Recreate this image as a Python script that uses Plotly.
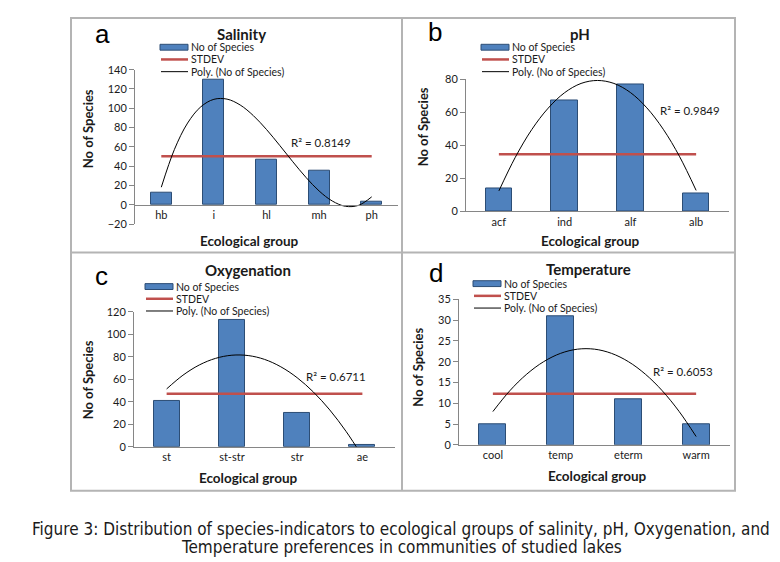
import plotly.graph_objects as go

W, H = 780, 562

# ---------------- data ----------------
sal_cats = ["hb", "i", "hl", "mh", "ph"]
sal_species = [13, 130, 47, 35, 3]
sal_stdev = 50.3
sal_trend_x = [1, 1.25, 1.5, 1.75, 2, 2.25, 2.5, 2.75, 3, 3.25, 3.5, 3.75, 4, 4.25, 4.5, 4.75, 5]
sal_trend_y = [18.2, 57.4, 84.7, 101.5, 109.3, 109.5, 103.4, 92.4, 78.0, 61.6, 44.6, 28.4, 14.3, 3.9, -1.6, -0.6, 8.2]
sal_r2 = "R² = 0.8149"

ph_cats = ["acf", "ind", "alf", "alb"]
ph_species = [14, 67, 77, 11]
ph_stdev = 34.6
ph_trend_x = [1, 1.25, 1.5, 1.75, 2, 2.25, 2.5, 2.75, 3, 3.25, 3.5, 3.75, 4]
ph_trend_y = [12.4, 32.8, 49.6, 62.6, 72.0, 77.6, 79.4, 77.6, 72.1, 62.8, 49.8, 33.1, 12.7]
ph_r2 = "R² = 0.9849"

oxy_cats = ["st", "st-str", "str", "ae"]
oxy_species = [41, 113, 30, 2]
oxy_stdev = 47.3
oxy_trend_x = [1, 1.25, 1.5, 1.75, 2, 2.25, 2.5, 2.75, 3, 3.25, 3.5, 3.75, 4]
oxy_trend_y = [51.5, 63.7, 72.8, 78.7, 81.5, 81.2, 77.8, 71.2, 61.5, 48.7, 32.8, 13.7, -8.5]
oxy_r2 = "R² = 0.6711"

tmp_cats = ["cool", "temp", "eterm", "warm"]
tmp_species = [5, 31, 11, 5]
tmp_stdev = 12.3
tmp_trend_x = [1, 1.25, 1.5, 1.75, 2, 2.25, 2.5, 2.75, 3, 3.25, 3.5, 3.75, 4]
tmp_trend_y = [8, 13, 17, 20, 22, 23, 23, 22, 20, 17, 13, 8, 2]
tmp_r2 = "R² = 0.6053"

titles = ["Salinity", "pH", "Oxygenation", "Temperature"]
letters = ["a", "b", "c", "d"]
legend_names = ["No of Species", "STDEV", "Poly. (No of Species)"]
x_title = "Ecological group"
y_title = "No of Species"
caption1 = "Figure 3: Distribution of species-indicators to ecological groups of salinity, pH, Oxygenation, and"
caption2 = "Temperature preferences in communities of studied lakes"

# ---------------- styling / layout ----------------
FONT = "Lato, 'Open Sans', 'Liberation Sans', sans-serif"
BAR = "#4F81BD"
BAR_EDGE = "#2c4d75"
RED = "#C0504D"
AXIS = "#868686"
TXT = "#1a1a1a"
LEG_STEP = 12.5


def fx(x):
    return x / W


def fy(y):
    return 1 - y / H


panels = [
    dict(cats=sal_cats, y=sal_species, sd=sal_stdev, tx=sal_trend_x, ty=sal_trend_y, r2=sal_r2,
         xd=(127, 390), yd=(56, 214), yr=(-20, 140), dt=20,
         title=(233, 19), letter=(94, 19), ytit=(80, 117), xtit=(241, 231), r2pos=(313, 131),
         leg=(152, 33)),
    dict(cats=ph_cats, y=ph_species, sd=ph_stdev, tx=ph_trend_x, ty=ph_trend_y, r2=ph_r2,
         xd=(458, 721), yd=(66, 201), yr=(0, 80), dt=20,
         title=(572, 19), letter=(427, 17), ytit=(415, 115), xtit=(582, 231), r2pos=(682, 98),
         leg=(473, 33)),
    dict(cats=oxy_cats, y=oxy_species, sd=oxy_stdev, tx=oxy_trend_x, ty=oxy_trend_y, r2=oxy_r2,
         xd=(126, 387), yd=(304, 442), yr=(0, 120), dt=20,
         title=(240, 261), letter=(93, 267), ytit=(80, 374), xtit=(240, 474), r2pos=(328, 370),
         leg=(137, 278)),
    dict(cats=tmp_cats, y=tmp_species, sd=tmp_stdev, tx=tmp_trend_x, ty=tmp_trend_y, r2=tmp_r2,
         xd=(451, 722), yd=(291, 440), yr=(0, 35), dt=5,
         title=(580, 260), letter=(428, 264), ytit=(410, 361), xtit=(589, 472), r2pos=(675, 365),
         leg=(465, 275)),
]

fig = go.Figure()
annotations = []
shapes = []
layout_axes = {}

for i, p in enumerate(panels):
    sfx = "" if i == 0 else str(i + 1)
    xa, ya = "x" + sfx, "y" + sfx
    n = len(p["cats"])
    xs = list(range(1, n + 1))

    fig.add_trace(go.Bar(x=xs, y=p["y"], width=0.4, xaxis=xa, yaxis=ya,
                         marker=dict(color=BAR, line=dict(color=BAR_EDGE, width=1)),
                         name=legend_names[0], showlegend=False))
    fig.add_trace(go.Scatter(x=xs, y=[p["sd"]] * n, mode="lines", xaxis=xa, yaxis=ya,
                             line=dict(color=RED, width=2.5), name=legend_names[1], showlegend=False))
    fig.add_trace(go.Scatter(x=p["tx"], y=p["ty"], mode="lines", xaxis=xa, yaxis=ya,
                             line=dict(color="black", width=1, shape="spline", smoothing=1.0),
                             name=legend_names[2], showlegend=False))

    ydom = (fy(p["yd"][1]), fy(p["yd"][0]))
    xaxis = dict(domain=(fx(p["xd"][0]), fx(p["xd"][1])), range=(0.5, n + 0.5),
                 tickmode="array", tickvals=xs, ticktext=p["cats"],
                 showline=True, linecolor=AXIS, linewidth=1, ticks="",
                 showgrid=False, zeroline=False, fixedrange=True,
                 tickfont=dict(family=FONT, size=11, color=TXT))
    if p["yr"][0] < 0:
        frac = (0 - p["yr"][0]) / (p["yr"][1] - p["yr"][0])
        xaxis.update(anchor="free", position=ydom[0] + frac * (ydom[1] - ydom[0]))
    else:
        xaxis.update(anchor=ya)
    yaxis = dict(domain=ydom, range=p["yr"], dtick=p["dt"], tick0=0, anchor=xa,
                 showline=True, linecolor=AXIS, linewidth=1, ticks="outside", ticklen=5,
                 tickcolor=AXIS, showgrid=False, zeroline=False, fixedrange=True,
                 tickfont=dict(family=FONT, size=11, color=TXT))
    layout_axes["xaxis" + sfx] = xaxis
    layout_axes["yaxis" + sfx] = yaxis

    # titles and labels
    annotations.append(dict(text="<b>%s</b>" % titles[i], x=fx(p["title"][0]), y=fy(p["title"][1]),
                            xref="paper", yref="paper", showarrow=False, xanchor="center", yanchor="middle",
                            font=dict(family=FONT, size=15, color=TXT)))
    annotations.append(dict(text=letters[i], x=fx(p["letter"][0]), y=fy(p["letter"][1]),
                            xref="paper", yref="paper", showarrow=False, xanchor="center", yanchor="middle",
                            font=dict(family="'Liberation Sans', Arial, sans-serif", size=26, color="black")))
    annotations.append(dict(text="<b>%s</b>" % y_title, x=fx(p["ytit"][0]), y=fy(p["ytit"][1]),
                            xref="paper", yref="paper", showarrow=False, textangle=-90,
                            xanchor="center", yanchor="middle",
                            font=dict(family=FONT, size=13, color=TXT)))
    annotations.append(dict(text="<b>%s</b>" % x_title, x=fx(p["xtit"][0]), y=fy(p["xtit"][1]),
                            xref="paper", yref="paper", showarrow=False, xanchor="center", yanchor="middle",
                            font=dict(family=FONT, size=13.5, color=TXT)))
    annotations.append(dict(text=p["r2"], x=fx(p["r2pos"][0]), y=fy(p["r2pos"][1]),
                            xref="paper", yref="paper", showarrow=False, xanchor="center", yanchor="middle",
                            font=dict(family=FONT, size=11.5, color=TXT)))

    # manual legend (Excel style)
    lx, ly = p["leg"]
    shapes.append(dict(type="rect", xref="paper", yref="paper",
                       x0=fx(lx), x1=fx(lx + 28), y0=fy(ly + 3), y1=fy(ly - 3),
                       fillcolor=BAR, line=dict(color=BAR_EDGE, width=1)))
    shapes.append(dict(type="line", xref="paper", yref="paper",
                       x0=fx(lx + 1), x1=fx(lx + 28), y0=fy(ly + LEG_STEP), y1=fy(ly + LEG_STEP),
                       line=dict(color=RED, width=2.5)))
    shapes.append(dict(type="line", xref="paper", yref="paper",
                       x0=fx(lx + 1), x1=fx(lx + 28), y0=fy(ly + 2 * LEG_STEP), y1=fy(ly + 2 * LEG_STEP),
                       line=dict(color="black", width=1)))
    for k, nm in enumerate(legend_names):
        annotations.append(dict(text=nm, x=fx(lx + 30), y=fy(ly + LEG_STEP * k), xref="paper", yref="paper",
                                showarrow=False, xanchor="left", yanchor="middle", borderpad=0,
                                font=dict(family=FONT, size=10.5, color=TXT)))

# panel frames
FR = "#b4b4b4"
shapes += [
    dict(type="rect", xref="paper", yref="paper", x0=fx(63), x1=fx(727), y0=fy(487), y1=fy(3),
         line=dict(color=FR, width=2)),
    dict(type="line", xref="paper", yref="paper", x0=fx(394), x1=fx(394), y0=fy(487), y1=fy(3),
         line=dict(color=FR, width=2)),
    dict(type="line", xref="paper", yref="paper", x0=fx(63), x1=fx(727), y0=fy(243), y1=fy(243),
         line=dict(color=FR, width=2)),
]

# caption
CAP = "'Liberation Sans Narrow', 'DejaVu Sans Condensed', 'Arial Narrow', sans-serif"
annotations.append(dict(text=caption1, x=fx(393), y=fy(526), xref="paper", yref="paper", showarrow=False,
                        xanchor="center", yanchor="middle", font=dict(family=CAP, size=17, color="#1a1a1a")))
annotations.append(dict(text=caption2, x=fx(393), y=fy(545), xref="paper", yref="paper", showarrow=False,
                        xanchor="center", yanchor="middle", font=dict(family=CAP, size=17, color="#1a1a1a")))

fig.update_layout(width=W, height=H, autosize=False, margin=dict(l=0, r=0, t=0, b=0),
                  paper_bgcolor="white", plot_bgcolor="white", showlegend=False,
                  bargap=0, annotations=annotations, shapes=shapes, **layout_axes)

fig.write_html("out.html", config=dict(displayModeBar=False))
